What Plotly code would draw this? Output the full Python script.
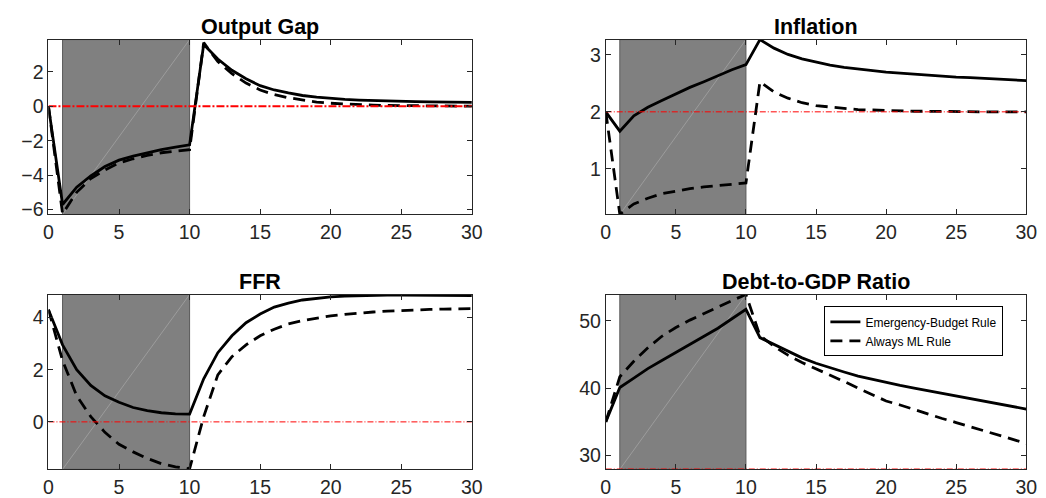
import plotly.graph_objects as go

t = list(range(31))

# Output Gap
og_eb = [0.0, -5.71, -4.7, -4.05, -3.5, -3.13, -2.9, -2.7, -2.52, -2.37, -2.24,
         3.6, 2.75, 2.1, 1.6, 1.2, 0.95, 0.78, 0.63, 0.53, 0.45,
         0.4, 0.36, 0.33, 0.31, 0.29, 0.27, 0.26, 0.25, 0.24, 0.23]
og_ml = [0.0, -6.25, -5.0, -4.2, -3.7, -3.29, -3.05, -2.85, -2.7, -2.6, -2.52,
         3.7, 2.6, 1.9, 1.35, 0.95, 0.68, 0.5, 0.36, 0.25, 0.18,
         0.13, 0.1, 0.07, 0.05, 0.04, 0.03, 0.02, 0.02, 0.01, 0.01]
og_ref = 0.0

# Inflation
inf_eb = [2.0, 1.66, 1.93, 2.08, 2.2, 2.32, 2.43, 2.53, 2.64, 2.74, 2.83,
          3.27, 3.12, 3.01, 2.93, 2.87, 2.82, 2.78, 2.75, 2.72, 2.7,
          2.68, 2.66, 2.64, 2.63, 2.61, 2.6, 2.59, 2.58, 2.57, 2.55]
inf_ml = [2.0, 0.2, 0.38, 0.48, 0.56, 0.61, 0.65, 0.68, 0.7, 0.72, 0.75,
          2.53, 2.35, 2.24, 2.16, 2.11, 2.08, 2.06, 2.04, 2.03, 2.02,
          2.015, 2.01, 2.01, 2.005, 2.0, 2.0, 2.0, 2.0, 2.0, 2.0]
inf_ref = 2.0

# FFR
ffr_eb = [4.3, 2.95, 2.0, 1.4, 1.0, 0.75, 0.55, 0.43, 0.35, 0.31, 0.3,
          1.65, 2.65, 3.3, 3.8, 4.13, 4.4, 4.55, 4.67, 4.74, 4.79,
          4.82, 4.84, 4.85, 4.86, 4.86, 4.86, 4.86, 4.85, 4.85, 4.84]
ffr_ml = [4.3, 2.35, 1.0, 0.2, -0.4, -0.86, -1.15, -1.4, -1.6, -1.72, -1.8,
          0.2, 1.8, 2.5, 2.95, 3.3, 3.55, 3.75, 3.88, 3.98, 4.06,
          4.12, 4.17, 4.21, 4.24, 4.27, 4.29, 4.31, 4.32, 4.33, 4.34]
ffr_ref = 0.0

# Debt-to-GDP
debt_eb = [35.0, 40.1, 41.5, 42.9, 44.1, 45.3, 46.5, 47.7, 48.9, 50.3, 51.7,
           47.5, 46.5, 45.5, 44.5, 43.7, 43.0, 42.4, 41.8, 41.3, 40.8,
           40.4, 40.0, 39.6, 39.2, 38.8, 38.5, 38.1, 37.7, 37.3, 36.9]
debt_ml = [35.0, 41.7, 44.0, 46.0, 47.7, 49.0, 50.1, 51.1, 52.1, 53.0, 53.9,
           47.8, 46.2, 44.9, 43.8, 42.9, 41.9, 41.0, 40.0, 39.0, 38.1,
           37.5, 36.8, 36.2, 35.5, 34.9, 34.3, 33.7, 33.1, 32.5, 31.8]
debt_ref = 28.0

titles = ["Output Gap", "Inflation", "FFR", "Debt-to-GDP Ratio"]
series = [(og_eb, og_ml, og_ref), (inf_eb, inf_ml, inf_ref),
          (ffr_eb, ffr_ml, ffr_ref), (debt_eb, debt_ml, debt_ref)]
yranges = [[-6.29, 3.88], [0.195, 3.27], [-1.82, 4.88], [27.95, 53.9]]
ytickvals = [[-6, -4, -2, 0, 2], [1, 2, 3], [0, 2, 4], [30, 40, 50]]
shade_start, shade_end = 1, 10
xtickvals = [0, 5, 10, 15, 20, 25, 30]

W, H = 1046, 498
xdoms = [[36 / W, 466 / W], [602 / W, 1029 / W]]
ydoms = [[1 - 209 / H, 1 - 32 / H], [1 - 467 / H, 1 - 290 / H]]

fig = go.Figure()
axis_col = "#262626"
font_fam = "Liberation Sans, Arial, sans-serif"

for i in range(4):
    r, c = divmod(i, 2)
    sfx = "" if i == 0 else str(i + 1)
    xa, ya = "x" + sfx, "y" + sfx
    eb, ml, ref = series[i]
    refw = 2 if i == 0 else 1
    refdash = "8px,2px,2px,2px" if i == 0 else "6px,2px,1px,2px"
    fig.add_trace(go.Scatter(x=t, y=eb, mode="lines", line=dict(color="black", width=2.8),
                             name="Emergency-Budget Rule", showlegend=(i == 3),
                             xaxis=xa, yaxis=ya))
    fig.add_trace(go.Scatter(x=t, y=ml, mode="lines",
                             line=dict(color="black", width=2.8, dash="12px,7px"),
                             name="Always ML Rule", showlegend=(i == 3),
                             xaxis=xa, yaxis=ya))
    fig.add_trace(go.Scatter(x=[t[0], t[-1]], y=[ref, ref], mode="lines",
                             line=dict(color="red", width=refw, dash=refdash),
                             showlegend=False, xaxis=xa, yaxis=ya))
    fig.add_shape(type="rect", xref=xa, yref=ya + " domain", x0=shade_start, x1=shade_end,
                  y0=0, y1=1, fillcolor="#808080", line=dict(color="#5a5a5a", width=1),
                  layer="below")
    fig.add_shape(type="line", xref=xa, yref=ya + " domain", x0=shade_start, x1=shade_end,
                  y0=0, y1=1, line=dict(color="#a8a8a8", width=0.7), layer="below")
    axkw = dict(showline=True, linecolor=axis_col, linewidth=1, mirror="ticks",
                ticks="inside", ticklen=5, tickcolor=axis_col, showgrid=False,
                zeroline=False, tickfont=dict(family=font_fam, size=19.5, color=axis_col))
    fig.layout["xaxis" + sfx] = dict(domain=xdoms[c], range=[0, 30], tickvals=xtickvals,
                                     anchor=ya, **axkw)
    fig.layout["yaxis" + sfx] = dict(domain=ydoms[r], range=yranges[i], tickvals=ytickvals[i],
                                     anchor=xa, **axkw)
    fig.add_annotation(text="<b>" + titles[i] + "</b>", xref=xa + " domain", yref=ya + " domain",
                       x=0.5, y=1, xanchor="center", yanchor="bottom", showarrow=False,
                       yshift=-1, font=dict(family=font_fam, size=21.5, color="black"))

fig.update_layout(
    width=W, height=H, margin=dict(l=0, r=0, t=0, b=0),
    paper_bgcolor="white", plot_bgcolor="white",
    legend=dict(x=824 / W, y=1 - 302 / H, xanchor="left", yanchor="top",
                bgcolor="white", bordercolor="black", borderwidth=1,
                font=dict(family=font_fam, size=12, color="black"),
                tracegroupgap=0, itemwidth=30),
)

fig.write_html("out.html")
